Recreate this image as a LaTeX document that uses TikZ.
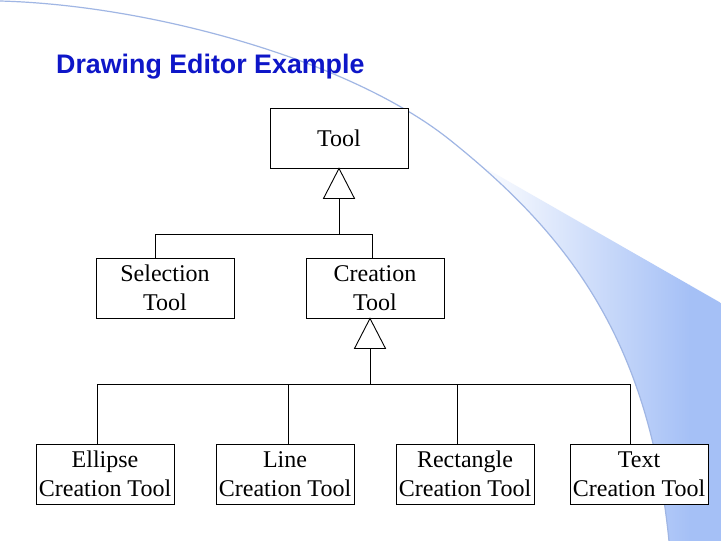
\documentclass[tikz,border=0pt]{standalone}
\usepackage{fontspec}
\setmainfont{Liberation Serif}
\newfontfamily\titlefont{Liberation Sans}
\usetikzlibrary{calc}
\definecolor{titleblue}{RGB}{14,22,200}
\definecolor{swoosh}{RGB}{165,192,246}
\definecolor{arcline}{RGB}{160,182,228}
\begin{document}
\begin{tikzpicture}[x=1pt,y=-1pt,
  classbox/.style={draw=black,line width=0.9pt,fill=white,minimum width=138pt,minimum height=60pt,
    inner sep=0pt,align=center,font=\fontsize{24}{29}\selectfont},
  conn/.style={draw=black,line width=0.9pt},
  inherit/.style={draw=black,line width=0.9pt,fill=white,line join=miter}]
\useasboundingbox (0,0) rectangle (721,541);
\fill[white] (0,0) rectangle (721,541);
% background swoosh
\def\arcpath{(0,1) .. controls (150,5) and (350,60) .. (450,140) .. controls (570,236) and (649,341) .. (669,541)}
\begin{scope}
  \clip (470,159.3) -- (721,303) -- (721,541) -- (470,541) -- cycle;
  \clip \arcpath -- (721,541) -- (721,0) -- (0,0) -- cycle;
  \shade[left color=white,right color=swoosh] (475,140) rectangle (690,541);
  \fill[swoosh] (689,140) rectangle (721,541);
\end{scope}
\draw[arcline,line width=1.2pt] \arcpath;
% title
\node[anchor=base west,inner sep=0pt,text=titleblue,font=\titlefont\bfseries\fontsize{26.8}{30}\selectfont] (title) at (56,73) {Drawing Editor Example};
% boxes
\node[classbox] (tool) at (339,138) {Tool};
\node[classbox] (sel) at (165,288) {Selection\\Tool};
\node[classbox] (cre) at (375,288) {Creation\\Tool};
\node[classbox] (ell) at (105,474) {Ellipse\\Creation Tool};
\node[classbox] (lin) at (285,474) {Line\\Creation Tool};
\node[classbox] (rec) at (465,474) {Rectangle\\Creation Tool};
\node[classbox] (txt) at (639,474) {Text\\Creation Tool};
% bus levels
\coordinate (b1) at (0,234);
\coordinate (b2) at (0,384);
% inheritance triangle 1
\coordinate (t1) at ($(tool.south)+(0,30)$);
\draw[inherit] (tool.south) -- ($(t1)+(15.5,0)$) -- ($(t1)+(-15.5,0)$) -- cycle;
\draw[conn] (t1) -- (t1 |- b1);
\draw[conn] ([xshift=-10pt]sel.north) |- ([xshift=-3pt]cre.north |- b1) -- ([xshift=-3pt]cre.north);
% inheritance triangle 2
\coordinate (a2) at ($(cre.south)+(-5,0)$);
\coordinate (t2) at ($(a2)+(0,30)$);
\draw[inherit] (a2) -- ($(t2)+(15.5,0)$) -- ($(t2)+(-15.5,0)$) -- cycle;
\draw[conn] (t2) -- (t2 |- b2);
\draw[conn] ([xshift=-8pt]ell.north) |- ([xshift=-9pt]txt.north |- b2) -- ([xshift=-9pt]txt.north);
\draw[conn] ([xshift=3pt]lin.north) -- ([xshift=3pt]lin.north |- b2);
\draw[conn] ([xshift=-8pt]rec.north) -- ([xshift=-8pt]rec.north |- b2);
\end{tikzpicture}
\end{document}
